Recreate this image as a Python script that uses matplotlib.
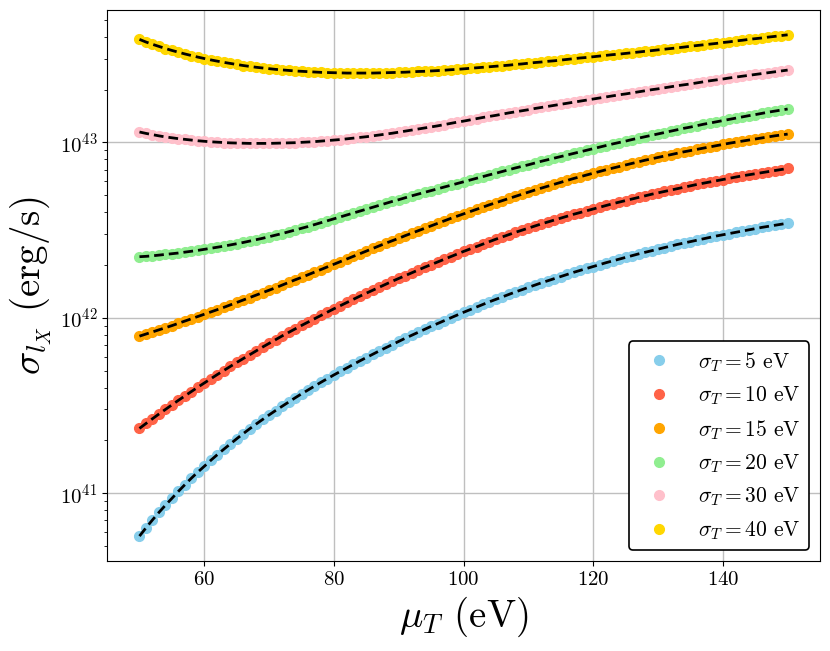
import numpy as np
import matplotlib
matplotlib.use("Agg")
import matplotlib.pyplot as plt

plt.rcParams['font.family'] = 'serif'
plt.rcParams['font.serif'] = ['cmr10']
plt.rcParams['mathtext.fontset'] = 'cm'
plt.rcParams['axes.formatter.use_mathtext'] = True
plt.rcParams['axes.unicode_minus'] = False

# mu_T grid (eV), one point per eV
mu_T = list(range(50, 151))

# log10 of sigma_lX (erg/s)
log_s5 = [
    40.755, 40.802, 40.847, 40.890, 40.931, 40.970, 41.010, 41.048, 41.085, 41.120,
    41.153, 41.187, 41.219, 41.250, 41.280, 41.310, 41.339, 41.367, 41.394, 41.420,
    41.446, 41.471, 41.495, 41.519, 41.543, 41.566, 41.588, 41.610, 41.632, 41.653,
    41.674, 41.694, 41.714, 41.734, 41.754, 41.773, 41.792, 41.811, 41.829, 41.847,
    41.865, 41.883, 41.900, 41.917, 41.934, 41.951, 41.967, 41.983, 41.999, 42.015,
    42.031, 42.046, 42.061, 42.076, 42.091, 42.105, 42.119, 42.133, 42.147, 42.160,
    42.173, 42.186, 42.199, 42.211, 42.223, 42.235, 42.247, 42.259, 42.270, 42.281,
    42.292, 42.303, 42.314, 42.324, 42.334, 42.344, 42.354, 42.364, 42.373, 42.382,
    42.391, 42.400, 42.409, 42.418, 42.426, 42.434, 42.442, 42.450, 42.458, 42.466,
    42.473, 42.480, 42.487, 42.494, 42.501, 42.508, 42.515, 42.521, 42.527, 42.533,
    42.539]
log_s10 = [
    41.369, 41.397, 41.424, 41.451, 41.477, 41.503, 41.529, 41.554, 41.579, 41.604,
    41.628, 41.652, 41.676, 41.699, 41.722, 41.745, 41.767, 41.789, 41.811, 41.833,
    41.854, 41.875, 41.896, 41.916, 41.936, 41.956, 41.975, 41.994, 42.013, 42.032,
    42.051, 42.069, 42.087, 42.105, 42.123, 42.140, 42.157, 42.174, 42.191, 42.208,
    42.224, 42.240, 42.256, 42.272, 42.288, 42.303, 42.318, 42.333, 42.348, 42.363,
    42.378, 42.392, 42.406, 42.420, 42.434, 42.448, 42.461, 42.474, 42.487, 42.499,
    42.511, 42.523, 42.535, 42.546, 42.557, 42.568, 42.579, 42.590, 42.600, 42.610,
    42.620, 42.630, 42.640, 42.650, 42.659, 42.668, 42.677, 42.686, 42.695, 42.704,
    42.712, 42.720, 42.728, 42.736, 42.744, 42.752, 42.760, 42.767, 42.774, 42.781,
    42.788, 42.795, 42.802, 42.809, 42.815, 42.821, 42.827, 42.833, 42.839, 42.845,
    42.851]
log_s15 = [
    41.895, 41.907, 41.919, 41.931, 41.943, 41.955, 41.968, 41.981, 41.994, 42.007,
    42.020, 42.033, 42.046, 42.059, 42.073, 42.087, 42.101, 42.115, 42.129, 42.143,
    42.157, 42.171, 42.186, 42.201, 42.216, 42.230, 42.245, 42.260, 42.275, 42.290,
    42.305, 42.320, 42.335, 42.350, 42.365, 42.380, 42.395, 42.410, 42.425, 42.439,
    42.453, 42.468, 42.482, 42.496, 42.510, 42.524, 42.538, 42.552, 42.566, 42.579,
    42.592, 42.605, 42.618, 42.631, 42.644, 42.656, 42.668, 42.680, 42.692, 42.704,
    42.716, 42.728, 42.739, 42.750, 42.761, 42.772, 42.783, 42.794, 42.804, 42.814,
    42.824, 42.834, 42.844, 42.853, 42.862, 42.871, 42.880, 42.889, 42.898, 42.906,
    42.914, 42.922, 42.930, 42.938, 42.946, 42.953, 42.960, 42.967, 42.974, 42.981,
    42.988, 42.995, 43.001, 43.007, 43.013, 43.019, 43.025, 43.031, 43.037, 43.042,
    43.047]
log_s20 = [
    42.348, 42.350, 42.353, 42.357, 42.361, 42.365, 42.369, 42.374, 42.379, 42.384,
    42.390, 42.396, 42.402, 42.408, 42.415, 42.422, 42.429, 42.437, 42.445, 42.453,
    42.462, 42.471, 42.480, 42.490, 42.500, 42.510, 42.520, 42.531, 42.542, 42.553,
    42.564, 42.575, 42.586, 42.597, 42.608, 42.619, 42.630, 42.641, 42.652, 42.663,
    42.673, 42.684, 42.695, 42.705, 42.715, 42.725, 42.735, 42.745, 42.755, 42.765,
    42.775, 42.785, 42.795, 42.805, 42.815, 42.824, 42.834, 42.844, 42.854, 42.863,
    42.872, 42.882, 42.892, 42.901, 42.910, 42.919, 42.928, 42.937, 42.946, 42.955,
    42.964, 42.973, 42.982, 42.991, 42.999, 43.007, 43.016, 43.024, 43.032, 43.040,
    43.048, 43.056, 43.064, 43.072, 43.080, 43.087, 43.095, 43.103, 43.110, 43.117,
    43.124, 43.131, 43.138, 43.145, 43.152, 43.158, 43.165, 43.172, 43.178, 43.184,
    43.190]
log_s30 = [
    43.059, 43.051, 43.044, 43.037, 43.031, 43.026, 43.021, 43.017, 43.013, 43.009,
    43.006, 43.003, 43.001, 42.999, 42.997, 42.996, 42.995, 42.994, 42.994, 42.994,
    42.994, 42.995, 42.996, 42.997, 42.998, 43.000, 43.002, 43.004, 43.007, 43.010,
    43.013, 43.016, 43.020, 43.024, 43.028, 43.032, 43.037, 43.042, 43.047, 43.052,
    43.058, 43.064, 43.070, 43.076, 43.082, 43.088, 43.094, 43.101, 43.108, 43.115,
    43.121, 43.128, 43.135, 43.142, 43.148, 43.154, 43.161, 43.168, 43.174, 43.180,
    43.186, 43.193, 43.199, 43.205, 43.211, 43.217, 43.223, 43.229, 43.235, 43.241,
    43.247, 43.253, 43.259, 43.265, 43.271, 43.276, 43.282, 43.288, 43.294, 43.300,
    43.305, 43.311, 43.317, 43.323, 43.328, 43.333, 43.339, 43.345, 43.351, 43.356,
    43.361, 43.367, 43.372, 43.377, 43.382, 43.387, 43.392, 43.397, 43.402, 43.407,
    43.412]
log_s40 = [
    43.587, 43.572, 43.559, 43.547, 43.535, 43.524, 43.514, 43.504, 43.495, 43.486,
    43.478, 43.470, 43.463, 43.456, 43.450, 43.444, 43.438, 43.433, 43.428, 43.424,
    43.420, 43.416, 43.413, 43.410, 43.407, 43.405, 43.403, 43.401, 43.399, 43.398,
    43.397, 43.396, 43.395, 43.395, 43.395, 43.395, 43.395, 43.396, 43.397, 43.398,
    43.399, 43.400, 43.402, 43.404, 43.405, 43.407, 43.409, 43.411, 43.414, 43.416,
    43.419, 43.422, 43.425, 43.428, 43.431, 43.434, 43.437, 43.440, 43.444, 43.447,
    43.451, 43.455, 43.458, 43.462, 43.465, 43.469, 43.473, 43.477, 43.481, 43.484,
    43.488, 43.492, 43.496, 43.500, 43.503, 43.507, 43.511, 43.515, 43.519, 43.523,
    43.527, 43.531, 43.535, 43.539, 43.543, 43.548, 43.552, 43.556, 43.560, 43.564,
    43.569, 43.573, 43.578, 43.582, 43.587, 43.591, 43.595, 43.600, 43.604, 43.609,
    43.613]

sigma_T = [5, 10, 15, 20, 30, 40]
colors = ['skyblue', 'tomato', 'orange', 'lightgreen', 'pink', 'gold']
series = [log_s5, log_s10, log_s15, log_s20, log_s30, log_s40]
xticks = [60, 80, 100, 120, 140]

fig = plt.figure(figsize=(8.3, 6.51), dpi=100)
ax = fig.add_axes([0.129, 0.138, 0.859, 0.847])

for s, c, logv in zip(sigma_T, colors, series):
    y = 10**np.array(logv)
    ax.plot(mu_T, y, 'o', ms=7, color=c, label=rf'$\sigma_T = {s}$ eV')
    ax.plot(mu_T, y, 'k--', lw=2, dashes=(3.5, 1.8))

ax.set_yscale('log')
ax.set_xticks(xticks)
ax.tick_params(labelsize=15)
ax.grid(True, which='major', color='#bfbfbf', lw=1)
ax.set_xlabel(r'$\mu_T$ (eV)', fontsize=28)
ax.set_ylabel(r'$\sigma_{l_X}$ (erg/s)', fontsize=28)

leg = ax.legend(loc='lower right', fontsize=15.5, framealpha=1)
leg.get_frame().set_edgecolor('black')
leg.get_frame().set_linewidth(1.2)

fig.savefig('out.png', dpi=100)
